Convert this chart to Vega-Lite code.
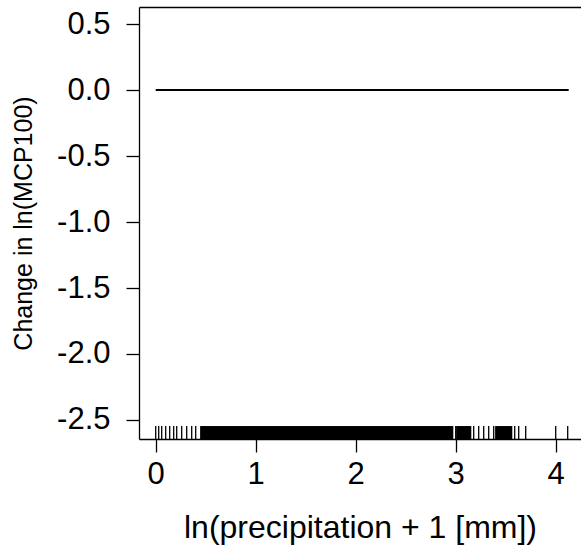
{
  "$schema": "https://vega.github.io/schema/vega-lite/v6.json",
  "width": 442,
  "height": 432,
  "autosize": {"type": "none"},
  "padding": {"left": 139, "top": 7, "right": 0, "bottom": 112},
  "background": "white",
  "config": {
    "view": {"stroke": null},
    "axis": {
      "labelFont": "Liberation Sans",
      "titleFont": "Liberation Sans",
      "labelColor": "#000",
      "titleColor": "#000",
      "tickColor": "#000",
      "domainColor": "#000",
      "grid": false,
      "tickSize": 13,
      "labelFontSize": 31,
      "titleFontWeight": "normal",
      "domainWidth": 1.3,
      "tickWidth": 1.3
    }
  },
  "datasets": {
    "curve": [{"x": 0, "y": 0}, {"x": 4.13, "y": 0}],
    "sparse": [
      {"x": 0}, {"x": 0.03}, {"x": 0.06}, {"x": 0.1}, {"x": 0.14}, {"x": 0.18}, {"x": 0.21}, {"x": 0.26}, {"x": 0.31}, {"x": 0.36}, {"x": 0.4},
      {"x": 3.0}, {"x": 3.18}, {"x": 3.23}, {"x": 3.28}, {"x": 3.33}, {"x": 3.38}, {"x": 3.59}, {"x": 3.63}, {"x": 3.7}, {"x": 4.0}, {"x": 4.12}
    ],
    "dense": [
      {"x": 0.46}, {"x": 0.48}, {"x": 0.5}, {"x": 0.52}, {"x": 0.54}, {"x": 0.56}, {"x": 0.58}, {"x": 0.6}, {"x": 0.62}, {"x": 0.64}, {"x": 0.66}, {"x": 0.68}, {"x": 0.7}, {"x": 0.72}, {"x": 0.74}, {"x": 0.76}, {"x": 0.78}, {"x": 0.8}, {"x": 0.82}, {"x": 0.84}, {"x": 0.86}, {"x": 0.88}, {"x": 0.9}, {"x": 0.92}, {"x": 0.94}, {"x": 0.96}, {"x": 0.98},
      {"x": 1.0}, {"x": 1.02}, {"x": 1.04}, {"x": 1.06}, {"x": 1.08}, {"x": 1.1}, {"x": 1.12}, {"x": 1.14}, {"x": 1.16}, {"x": 1.18}, {"x": 1.2}, {"x": 1.22}, {"x": 1.24}, {"x": 1.26}, {"x": 1.28}, {"x": 1.3}, {"x": 1.32}, {"x": 1.34}, {"x": 1.36}, {"x": 1.38}, {"x": 1.4}, {"x": 1.42}, {"x": 1.44}, {"x": 1.46}, {"x": 1.48}, {"x": 1.5}, {"x": 1.52}, {"x": 1.54}, {"x": 1.56}, {"x": 1.58}, {"x": 1.6}, {"x": 1.62}, {"x": 1.64}, {"x": 1.66}, {"x": 1.68}, {"x": 1.7}, {"x": 1.72}, {"x": 1.74}, {"x": 1.76}, {"x": 1.78}, {"x": 1.8}, {"x": 1.82}, {"x": 1.84}, {"x": 1.86}, {"x": 1.88}, {"x": 1.9}, {"x": 1.92}, {"x": 1.94}, {"x": 1.96}, {"x": 1.98},
      {"x": 2.0}, {"x": 2.02}, {"x": 2.04}, {"x": 2.06}, {"x": 2.08}, {"x": 2.1}, {"x": 2.12}, {"x": 2.14}, {"x": 2.16}, {"x": 2.18}, {"x": 2.2}, {"x": 2.22}, {"x": 2.24}, {"x": 2.26}, {"x": 2.28}, {"x": 2.3}, {"x": 2.32}, {"x": 2.34}, {"x": 2.36}, {"x": 2.38}, {"x": 2.4}, {"x": 2.42}, {"x": 2.44}, {"x": 2.46}, {"x": 2.48}, {"x": 2.5}, {"x": 2.52}, {"x": 2.54}, {"x": 2.56}, {"x": 2.58}, {"x": 2.6}, {"x": 2.62}, {"x": 2.64}, {"x": 2.66}, {"x": 2.68}, {"x": 2.7}, {"x": 2.72}, {"x": 2.74}, {"x": 2.76}, {"x": 2.78}, {"x": 2.8}, {"x": 2.82}, {"x": 2.84}, {"x": 2.86}, {"x": 2.88}, {"x": 2.9}, {"x": 2.92}, {"x": 2.94}, {"x": 2.96},
      {"x": 3.02}, {"x": 3.04}, {"x": 3.06}, {"x": 3.08}, {"x": 3.1}, {"x": 3.12}, {"x": 3.14},
      {"x": 3.41}, {"x": 3.43}, {"x": 3.45}, {"x": 3.47}, {"x": 3.49}, {"x": 3.51}, {"x": 3.53}, {"x": 3.55}
    ]
  },
  "layer": [
    {
      "data": {"name": "curve"},
      "mark": {"type": "line", "color": "#000", "strokeWidth": 2.2},
      "encoding": {
        "x": {
          "field": "x", "type": "quantitative",
          "scale": {"domain": [-0.167, 4.253], "nice": false, "zero": false},
          "axis": {"orient": "bottom", "values": [0, 1, 2, 3, 4], "format": "d", "labelPadding": 7, "title": "ln(precipitation + 1 [mm])", "titleFontSize": 32, "titlePadding": 23}
        },
        "y": {
          "field": "y", "type": "quantitative",
          "scale": {"domain": [-2.644, 0.629], "nice": false, "zero": false},
          "axis": {"values": [-2.5, -2, -1.5, -1, -0.5, 0, 0.5], "labelExpr": "datum.value < 0 ? '-' + format(-datum.value, '.1f') : format(datum.value, '.1f')", "labelPadding": 16, "title": "Change in ln(MCP100)", "titleFontSize": 25, "titlePadding": 20}
        }
      }
    },
    {
      "data": {"name": "sparse"},
      "mark": {"type": "rule", "color": "#000", "strokeWidth": 1.3},
      "encoding": {
        "x": {
          "field": "x", "type": "quantitative",
          "axis": {"orient": "top", "labels": false, "ticks": false, "title": null}
        },
        "y": {"datum": -2.644, "type": "quantitative", "axis": {"values": [-2.5, -2, -1.5, -1, -0.5, 0, 0.5], "labelExpr": "datum.value < 0 ? '-' + format(-datum.value, '.1f') : format(datum.value, '.1f')", "labelPadding": 16, "title": "Change in ln(MCP100)", "titleFontSize": 25, "titlePadding": 20}},
        "y2": {"datum": -2.546}
      }
    },
    {
      "data": {"name": "dense"},
      "mark": {"type": "rule", "color": "#000", "strokeWidth": 3.2},
      "encoding": {
        "x": {"field": "x", "type": "quantitative", "axis": null},
        "y": {"datum": -2.644, "type": "quantitative", "axis": {"values": [-2.5, -2, -1.5, -1, -0.5, 0, 0.5], "labelExpr": "datum.value < 0 ? '-' + format(-datum.value, '.1f') : format(datum.value, '.1f')", "labelPadding": 16, "title": "Change in ln(MCP100)", "titleFontSize": 25, "titlePadding": 20}},
        "y2": {"datum": -2.546}
      }
    }
  ],
  "resolve": {"axis": {"x": "independent"}}
}
